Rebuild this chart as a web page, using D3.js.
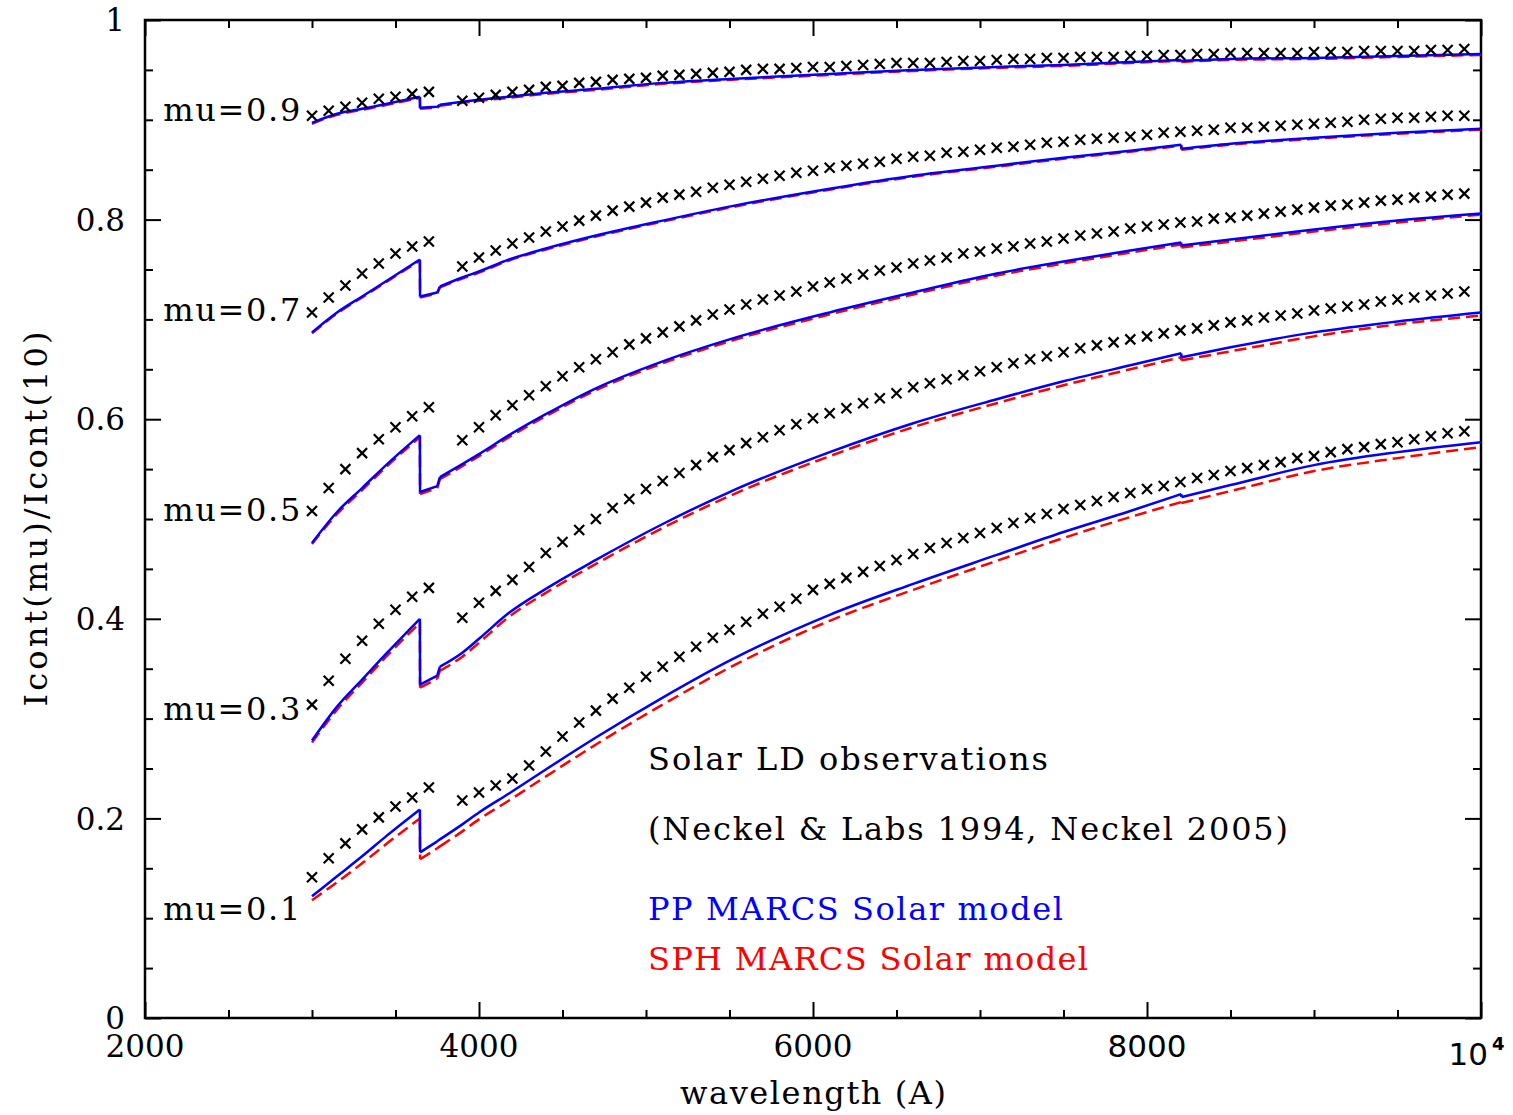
<!DOCTYPE html>
<html>
<head>
<meta charset="utf-8">
<script src="https://cdn.jsdelivr.net/npm/d3@7"></script>
<style>
  body { margin: 0; background: #fff; }
  text { font-family: "DejaVu Serif", serif; }
</style>
</head>
<body>
<div id="chart"></div>
<script>
// observed limb darkening (Neckel & Labs), one cross every 100 A
var obsWave = [3000,3100,3200,3300,3400,3500,3600,3700,
  3900,4000,4100,4200,4300,4400,4500,4600,4700,4800,4900,5000,
  5100,5200,5300,5400,5500,5600,5700,5800,5900,6000,
  6100,6200,6300,6400,6500,6600,6700,6800,6900,7000,
  7100,7200,7300,7400,7500,7600,7700,7800,7900,8000,
  8100,8200,8300,8400,8500,8600,8700,8800,8900,9000,
  9100,9200,9300,9400,9500,9600,9700,9800,9900];

var obsMu01 = [0.141,0.160,0.175,0.189,0.201,0.212,0.221,0.231,
  0.218,0.226,0.233,0.240,0.253,0.267,0.282,0.296,0.308,0.320,0.331,0.342,
  0.352,0.362,0.372,0.381,0.389,0.397,0.405,0.412,0.420,0.429,
  0.435,0.441,0.447,0.453,0.459,0.465,0.471,0.476,0.481,0.486,
  0.491,0.496,0.501,0.505,0.510,0.514,0.518,0.522,0.526,0.530,
  0.533,0.537,0.541,0.544,0.548,0.551,0.554,0.557,0.561,0.563,
  0.567,0.570,0.572,0.575,0.577,0.580,0.583,0.586,0.588];
var obsMu03 = [0.314,0.338,0.360,0.378,0.395,0.409,0.422,0.431,
  0.401,0.416,0.428,0.439,0.452,0.466,0.477,0.489,0.500,0.511,0.520,0.530,
  0.538,0.546,0.554,0.562,0.569,0.576,0.582,0.589,0.595,0.601,
  0.606,0.611,0.616,0.621,0.626,0.632,0.636,0.640,0.644,0.648,
  0.652,0.656,0.660,0.663,0.667,0.671,0.674,0.677,0.680,0.683,
  0.686,0.689,0.691,0.694,0.697,0.699,0.702,0.704,0.706,0.709,
  0.711,0.713,0.715,0.718,0.720,0.722,0.724,0.726,0.728];
var obsMu05 = [0.508,0.531,0.550,0.566,0.580,0.592,0.603,0.612,
  0.579,0.592,0.604,0.614,0.624,0.633,0.643,0.652,0.660,0.667,0.675,0.681,
  0.687,0.693,0.699,0.705,0.710,0.715,0.720,0.724,0.728,0.733,
  0.737,0.741,0.745,0.749,0.752,0.756,0.759,0.762,0.766,0.768,
  0.771,0.773,0.776,0.778,0.781,0.784,0.786,0.788,0.791,0.793,
  0.795,0.797,0.798,0.801,0.802,0.804,0.806,0.808,0.810,0.812,
  0.814,0.815,0.817,0.819,0.820,0.822,0.823,0.825,0.826];
var obsMu07 = [0.707,0.722,0.734,0.746,0.756,0.766,0.773,0.778,
  0.753,0.762,0.769,0.776,0.782,0.788,0.793,0.799,0.804,0.809,0.813,0.817,
  0.822,0.825,0.828,0.832,0.835,0.838,0.841,0.844,0.847,0.849,
  0.852,0.854,0.856,0.858,0.861,0.863,0.864,0.867,0.868,0.870,
  0.872,0.873,0.875,0.877,0.878,0.880,0.881,0.882,0.883,0.885,
  0.887,0.888,0.889,0.890,0.892,0.892,0.893,0.894,0.895,0.896,
  0.897,0.898,0.900,0.901,0.902,0.902,0.903,0.904,0.904];
var obsMu09 = [0.904,0.909,0.913,0.917,0.921,0.923,0.926,0.928,
  0.919,0.922,0.925,0.928,0.930,0.933,0.934,0.937,0.938,0.940,0.941,0.942,
  0.944,0.945,0.946,0.947,0.948,0.950,0.951,0.951,0.952,0.953,
  0.953,0.954,0.955,0.956,0.957,0.957,0.957,0.958,0.959,0.959,
  0.960,0.961,0.961,0.962,0.962,0.963,0.963,0.963,0.964,0.964,
  0.965,0.965,0.966,0.966,0.967,0.967,0.967,0.967,0.967,0.968,
  0.968,0.968,0.969,0.969,0.969,0.969,0.970,0.970,0.971];

// MARCS model curves (Balmer jump at 3646, Paschen at 8206)
var modelWave = [3000,3150,3300,3450,3646,3647,3750,3766,3900,4000,4180,4400,4700,
  5100,5500,6100,6600,7100,7500,7900,8205,8206,8500,9000,9500,10000];

var ppMu01  = [0.122,0.142,0.162,0.183,0.209,0.166,0.177,0.179,0.194,0.206,0.225,0.249,0.281,
  0.321,0.358,0.404,0.435,0.464,0.487,0.508,0.525,0.522,0.534,0.554,0.567,0.577];
var sphMu01 = [0.118,0.136,0.155,0.175,0.200,0.159,0.170,0.172,0.187,0.199,0.218,0.242,0.274,
  0.314,0.351,0.398,0.429,0.458,0.481,0.502,0.517,0.516,0.528,0.548,0.561,0.572];
var ppMu03  = [0.278,0.312,0.339,0.366,0.400,0.334,0.343,0.352,0.366,0.380,0.406,0.430,0.459,
  0.495,0.527,0.567,0.596,0.620,0.638,0.654,0.666,0.662,0.672,0.687,0.698,0.707];
var sphMu03 = [0.276,0.309,0.336,0.363,0.396,0.331,0.340,0.348,0.362,0.376,0.402,0.426,0.455,
  0.491,0.523,0.563,0.592,0.616,0.634,0.650,0.662,0.659,0.668,0.683,0.695,0.704];
var ppMu05  = [0.476,0.507,0.531,0.555,0.584,0.527,0.533,0.542,0.555,0.565,0.584,0.605,0.631,
  0.658,0.680,0.707,0.727,0.746,0.758,0.769,0.777,0.774,0.780,0.790,0.799,0.806];
var sphMu05 = [0.475,0.505,0.529,0.553,0.582,0.525,0.531,0.540,0.553,0.563,0.582,0.603,0.629,
  0.656,0.678,0.705,0.725,0.744,0.756,0.767,0.775,0.772,0.778,0.788,0.797,0.805];
var ppMu07  = [0.687,0.707,0.723,0.739,0.760,0.723,0.727,0.733,0.742,0.748,0.760,0.771,0.784,
  0.799,0.813,0.831,0.844,0.854,0.862,0.869,0.875,0.871,0.876,0.882,0.887,0.891];
var sphMu07 = [0.686,0.706,0.722,0.738,0.759,0.722,0.726,0.732,0.741,0.747,0.759,0.770,0.783,
  0.798,0.812,0.830,0.843,0.853,0.861,0.868,0.874,0.870,0.875,0.881,0.886,0.890];
var ppMu09  = [0.897,0.906,0.911,0.916,0.923,0.912,0.913,0.915,0.918,0.920,0.923,0.927,0.931,
  0.937,0.941,0.946,0.950,0.953,0.955,0.958,0.960,0.959,0.961,0.962,0.964,0.966];
var sphMu09 = [0.896,0.905,0.910,0.915,0.922,0.911,0.912,0.914,0.917,0.919,0.922,0.926,0.930,
  0.936,0.940,0.945,0.949,0.952,0.954,0.957,0.959,0.958,0.960,0.961,0.963,0.965];

// index ranges of the smooth pieces between the jumps
var pieces = [[0, 4], [4, 5], [5, 6], [6, 7], [7, 20], [20, 21], [21, 25]];

var muLabels = ["mu=0.1","mu=0.3","mu=0.5","mu=0.7","mu=0.9"];
var muValues = [0.1,0.3,0.5,0.7,0.9];
var obsSeries = [obsMu01,obsMu03,obsMu05,obsMu07,obsMu09];
var ppSeries = [ppMu01,ppMu03,ppMu05,ppMu07,ppMu09];
var sphSeries = [sphMu01,sphMu03,sphMu05,sphMu07,sphMu09];

var xMajor = [2000,4000,6000,8000,10000];
var xMinor = [2500,3000,3500,4500,5000,5500,6500,7000,7500,8500,9000,9500];
var yMajor = [0,0.2,0.4,0.6,0.8,1];
var yMinor = [0.05,0.1,0.15,0.25,0.3,0.35,0.45,0.5,0.55,0.65,0.7,0.75,0.85,0.9,0.95];

var width = 1513, height = 1115;
var pLeft = 145, pRight = 1481, pTop = 20, pBottom = 1018;

var svg = d3.select("#chart").append("svg")
    .attr("width", width)
    .attr("height", height);

var x = d3.scaleLinear().domain([2000, 10000]).range([pLeft, pRight]);
var y = d3.scaleLinear().domain([0, 1]).range([pBottom, pTop]);

// ticks on all four sides, pointing inward
function tickAxis(axis, vals, size, tx, ty) {
    var g = svg.append("g")
        .attr("transform", "translate(" + tx + "," + ty + ")")
        .call(axis.tickValues(vals).tickSize(size).tickFormat(""));
    g.select(".domain").remove();
    g.selectAll(".tick line").attr("stroke", "#000").attr("stroke-width", 2);
    return g;
}
tickAxis(d3.axisBottom(x), xMajor, -16, 0, pBottom);
tickAxis(d3.axisBottom(x), xMinor, -8, 0, pBottom);
tickAxis(d3.axisTop(x), xMajor, -16, 0, pTop);
tickAxis(d3.axisTop(x), xMinor, -8, 0, pTop);
tickAxis(d3.axisLeft(y), yMajor, -16, pLeft, 0);
tickAxis(d3.axisLeft(y), yMinor, -8, pLeft, 0);
tickAxis(d3.axisRight(y), yMajor, -16, pRight, 0);
tickAxis(d3.axisRight(y), yMinor, -8, pRight, 0);

svg.append("rect")
    .attr("x", pLeft).attr("y", pTop)
    .attr("width", pRight - pLeft).attr("height", pBottom - pTop)
    .attr("fill", "none").attr("stroke", "#000").attr("stroke-width", 2.5);

// y tick labels
svg.append("g").selectAll("text")
    .data(yMajor)
    .enter().append("text")
    .attr("x", pLeft - 20)
    .attr("y", d => y(d))
    .attr("dy", "0.36em")
    .attr("text-anchor", "end")
    .attr("font-size", 31)
    .text(d => d == 0 ? "0" : d == 1 ? "1" : d3.format(".1f")(d));

// x tick labels
svg.append("g").selectAll("text")
    .data(xMajor.slice(0, 4))
    .enter().append("text")
    .attr("x", d => x(d))
    .attr("y", 1057)
    .attr("text-anchor", "middle")
    .attr("font-size", 31)
    .style("font-family", d => d >= 8000 ? "'DejaVu Sans', sans-serif" : null)
    .text(d => d);

svg.append("text")
    .attr("x", x(10000) + 7)
    .attr("y", 1065)
    .attr("text-anchor", "end")
    .attr("font-size", 31)
    .style("font-family", "'DejaVu Sans', sans-serif")
    .text("10");
svg.append("text")
    .attr("x", x(10000) + 11)
    .attr("y", 1050)
    .attr("font-size", 18)
    .attr("font-weight", "bold")
    .style("font-family", "'DejaVu Sans', sans-serif")
    .text("4");

// axis titles
svg.append("text")
    .attr("x", (pLeft + pRight) / 2)
    .attr("y", 1104)
    .attr("text-anchor", "middle")
    .attr("font-size", 32)
    .attr("textLength", 266)
    .text("wavelength (A)");

svg.append("text")
    .attr("transform", "translate(47," + ((pTop + pBottom) / 2) + ") rotate(-90)")
    .attr("text-anchor", "middle")
    .attr("font-size", 32)
    .attr("textLength", 375)
    .text("Icont(mu)/Icont(10)");

// model lines, drawn piece by piece so the jumps stay sharp
var smooth = d3.line()
    .x(d => x(d[0]))
    .y(d => y(d[1]))
    .curve(d3.curveMonotoneX);

function modelPath(vals) {
    return pieces.map(function (p) {
        var pts = [];
        for (var i = p[0]; i <= p[1]; i++) pts.push([modelWave[i], vals[i]]);
        return smooth(pts);
    }).join("");
}

svg.append("g").selectAll("path")
    .data(sphSeries)
    .enter().append("path")
    .attr("d", modelPath)
    .attr("fill", "none")
    .attr("stroke", "#ff0000")
    .attr("stroke-width", 2.5)
    .attr("stroke-dasharray", "12,6");

svg.append("g").selectAll("path")
    .data(ppSeries)
    .enter().append("path")
    .attr("d", modelPath)
    .attr("fill", "none")
    .attr("stroke", "#0000ff")
    .attr("stroke-width", 2.5)
    .attr("stroke-linejoin", "round");

// observation crosses
obsSeries.forEach(function (s) {
    svg.append("g").selectAll("path")
        .data(s)
        .enter().append("path")
        .attr("transform", (d, i) => "translate(" + x(obsWave[i]) + "," + y(d) + ")")
        .attr("d", "M-5,-5L5,5M-5,5L5,-5")
        .attr("stroke", "#000")
        .attr("stroke-width", 2.2);
});

// mu labels
svg.append("g").selectAll("text")
    .data(muLabels)
    .enter().append("text")
    .attr("x", x(2930))
    .attr("y", (d, i) => y(muValues[i] + 0.01))
    .attr("dy", "0.36em")
    .attr("text-anchor", "end")
    .attr("font-size", 32)
    .attr("textLength", 137)
    .text(d => d);

// legend notes
var notes = [
    {t: "Solar LD observations", c: "#000", y: 770, w: 400},
    {t: "(Neckel & Labs 1994, Neckel 2005)", c: "#000", y: 840, w: 640},
    {t: "PP MARCS Solar model", c: "#0000ff", y: 920, w: 415},
    {t: "SPH MARCS Solar model", c: "#ff0000", y: 970, w: 440}
];
svg.append("g").selectAll("text")
    .data(notes)
    .enter().append("text")
    .attr("x", 648)
    .attr("y", d => d.y)
    .attr("fill", d => d.c)
    .attr("font-size", 32)
    .attr("textLength", d => d.w)
    .text(d => d.t);
</script>
</body>
</html>
